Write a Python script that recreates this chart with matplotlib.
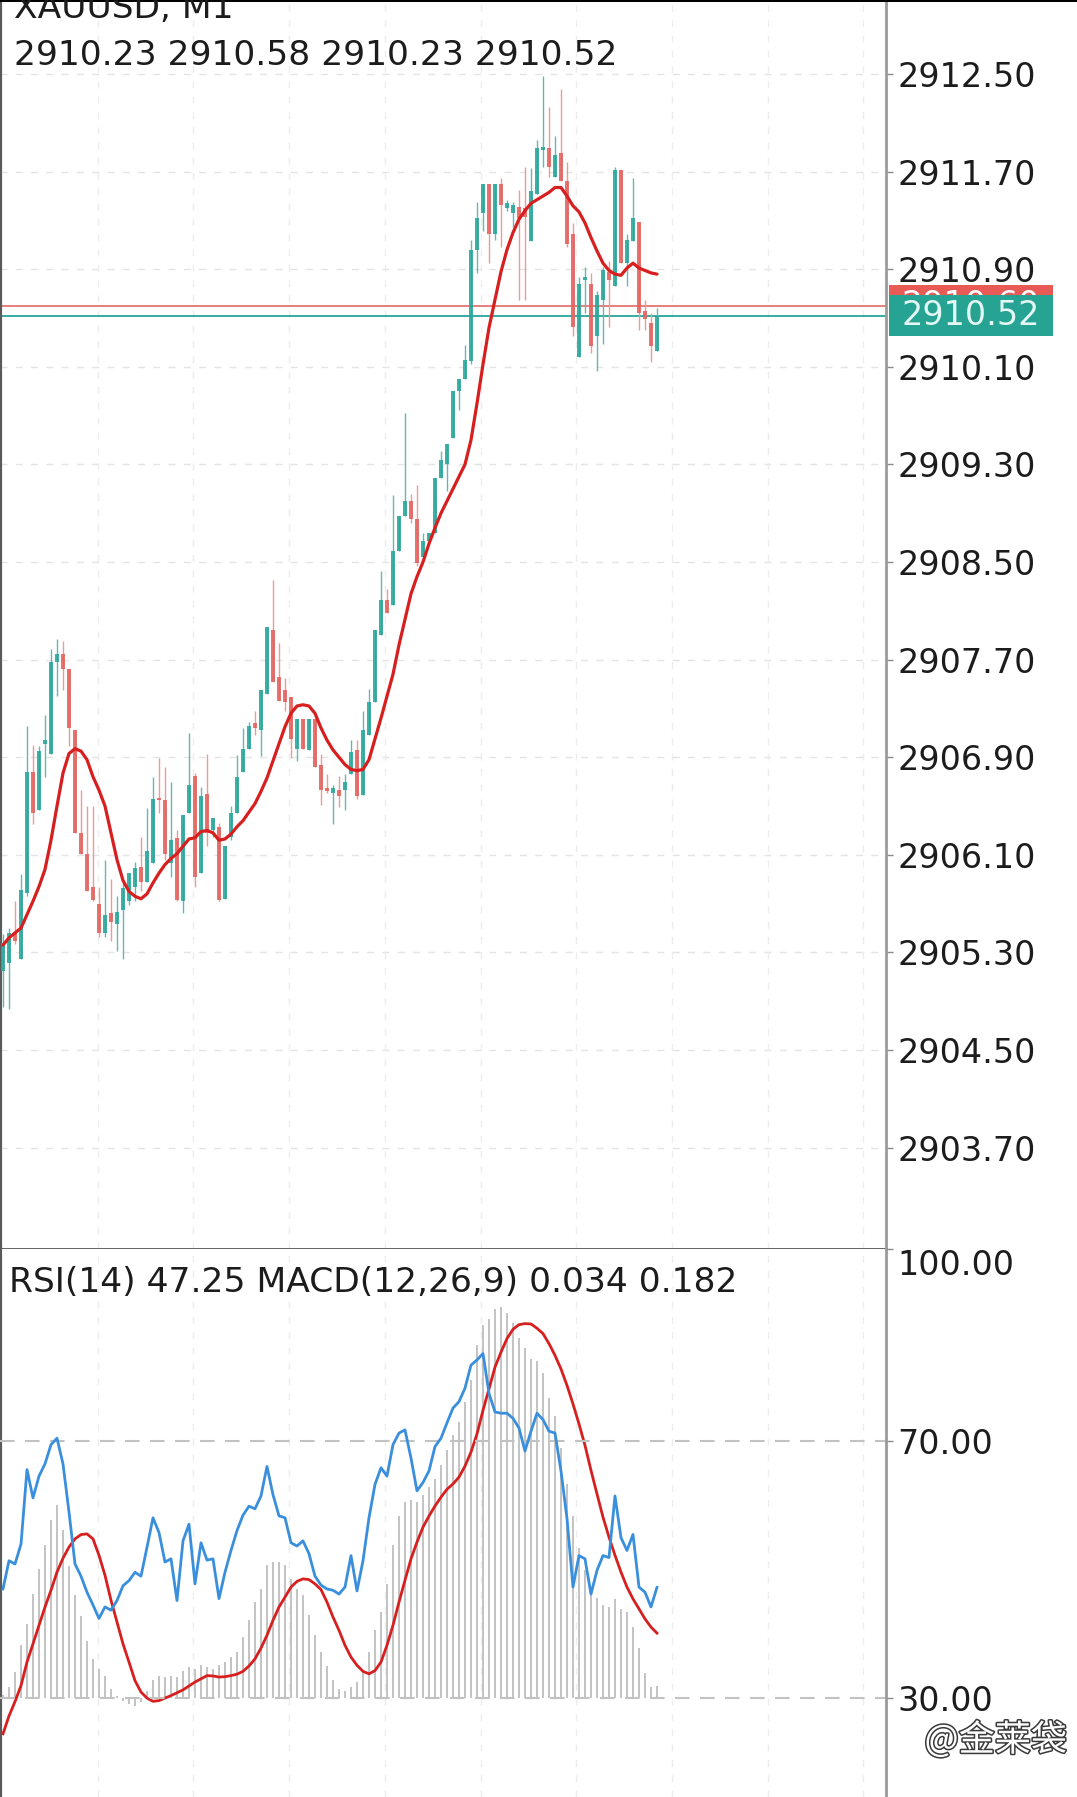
import matplotlib
matplotlib.use("Agg")
import matplotlib.pyplot as plt
import matplotlib.transforms as mtransforms
import matplotlib.patheffects as pe
from matplotlib.patches import Rectangle
import numpy as np

plt.rcParams['font.family'] = ['DejaVu Sans']

# ---------------- data ----------------
symbol_title = "XAUUSD, M1"
ohlc_header = "2910.23 2910.58 2910.23 2910.52"
indicator_header = "RSI(14) 47.25 MACD(12,26,9) 0.034 0.182"

opens = [
    2905.15, 2905.21, 2905.47, 2905.25, 2905.79, 2906.78, 2906.47, 2907.01, 2906.93, 2907.68,
    2907.75, 2907.62, 2907.12, 2906.28, 2906.11, 2905.84, 2905.70, 2905.46, 2905.62, 2905.53,
    2905.65, 2905.72, 2905.84, 2906.00, 2905.88, 2906.03, 2906.56, 2906.55, 2906.03, 2906.24,
    2905.72, 2906.44, 2906.75, 2905.95, 2906.60, 2906.30, 2906.33, 2905.74, 2906.25, 2906.44,
    2906.78, 2906.97, 2907.18, 2907.12, 2907.42, 2907.94, 2907.56, 2907.45, 2907.39, 2906.97,
    2907.21, 2906.96, 2907.21, 2906.84, 2906.65, 2906.61, 2906.63, 2906.63, 2906.76, 2906.96,
    2906.59, 2907.08, 2907.35, 2907.90, 2908.19, 2908.15, 2908.59, 2908.88, 2909.00, 2908.85,
    2908.54, 2908.67, 2908.74, 2909.19, 2909.30, 2909.52, 2909.90, 2910.00, 2910.15, 2911.06,
    2911.36, 2911.60, 2911.19, 2911.60, 2911.40, 2911.36, 2911.41, 2911.40, 2911.13, 2911.52,
    2911.88, 2911.89, 2911.66, 2911.85, 2911.62, 2911.19, 2910.18, 2910.81, 2910.78, 2910.35,
    2910.65, 2910.88, 2910.76, 2911.71, 2910.95, 2911.13, 2911.29, 2910.56, 2910.46, 2910.23,
]
highs = [
    2905.45, 2905.50, 2905.72, 2905.94, 2907.16, 2907.00, 2906.99, 2907.25, 2907.79, 2907.87,
    2907.85, 2907.62, 2907.12, 2906.63, 2906.50, 2906.50, 2905.84, 2906.06, 2905.90, 2905.76,
    2905.87, 2905.95, 2906.04, 2906.25, 2906.48, 2906.74, 2906.89, 2906.82, 2906.70, 2906.30,
    2906.43, 2907.10, 2906.77, 2906.66, 2906.93, 2906.40, 2906.36, 2906.17, 2906.50, 2906.92,
    2907.14, 2907.19, 2907.28, 2907.45, 2907.97, 2908.35, 2907.84, 2907.55, 2907.39, 2907.21,
    2907.21, 2907.21, 2907.21, 2906.93, 2906.76, 2906.67, 2906.75, 2906.76, 2907.04, 2907.04,
    2907.28, 2907.46, 2907.94, 2908.43, 2908.28, 2909.05, 2908.88, 2909.72, 2909.06, 2909.13,
    2908.74, 2908.74, 2909.19, 2909.41, 2909.47, 2909.90, 2910.00, 2910.28, 2911.14, 2911.45,
    2911.60, 2911.60, 2911.60, 2911.65, 2911.47, 2911.45, 2911.55, 2911.74, 2911.73, 2911.96,
    2912.48, 2912.23, 2911.99, 2912.38, 2911.78, 2911.28, 2910.84, 2910.92, 2910.87, 2910.72,
    2910.92, 2910.97, 2911.74, 2911.71, 2911.19, 2911.65, 2911.29, 2910.65, 2910.54, 2910.58,
]
lows = [
    2904.85, 2904.84, 2905.37, 2905.25, 2905.76, 2906.35, 2906.47, 2906.74, 2906.93, 2907.40,
    2907.45, 2906.99, 2906.28, 2906.11, 2905.80, 2905.72, 2905.43, 2905.43, 2905.39, 2905.31,
    2905.25, 2905.69, 2905.72, 2905.80, 2905.88, 2906.03, 2906.44, 2906.06, 2905.92, 2905.72,
    2905.62, 2906.44, 2905.84, 2905.95, 2906.17, 2906.25, 2905.72, 2905.74, 2906.22, 2906.44,
    2906.78, 2906.97, 2907.08, 2906.91, 2907.42, 2907.52, 2907.36, 2907.28, 2906.89, 2906.87,
    2906.97, 2906.96, 2906.82, 2906.51, 2906.61, 2906.35, 2906.49, 2906.47, 2906.76, 2906.56,
    2906.59, 2907.08, 2907.35, 2907.90, 2908.08, 2908.15, 2908.59, 2908.88, 2908.82, 2908.47,
    2908.54, 2908.67, 2908.74, 2909.19, 2909.08, 2909.52, 2909.75, 2910.00, 2910.12, 2910.87,
    2911.21, 2910.95, 2911.14, 2911.08, 2911.38, 2911.25, 2910.65, 2910.65, 2911.13, 2911.52,
    2911.74, 2911.66, 2911.66, 2911.62, 2911.08, 2910.35, 2910.18, 2910.54, 2910.21, 2910.07,
    2910.29, 2910.43, 2910.76, 2910.95, 2910.76, 2911.13, 2910.40, 2910.40, 2910.14, 2910.23,
]
closes = [
    2905.38, 2905.46, 2905.39, 2905.81, 2906.78, 2906.44, 2906.95, 2907.04, 2907.68, 2907.75,
    2907.62, 2907.14, 2906.28, 2906.11, 2905.80, 2905.73, 2905.46, 2905.61, 2905.55, 2905.63,
    2905.83, 2905.95, 2905.99, 2905.88, 2906.13, 2906.56, 2906.55, 2906.11, 2906.22, 2905.73,
    2906.43, 2906.67, 2905.92, 2906.58, 2906.28, 2906.40, 2905.73, 2906.17, 2906.44, 2906.74,
    2906.97, 2907.16, 2907.14, 2907.45, 2907.97, 2907.52, 2907.36, 2907.35, 2907.05, 2907.21,
    2906.97, 2907.21, 2906.82, 2906.63, 2906.62, 2906.65, 2906.58, 2906.70, 2906.94, 2906.58,
    2907.12, 2907.35, 2907.94, 2908.19, 2908.08, 2908.59, 2908.88, 2909.00, 2908.85, 2908.49,
    2908.67, 2908.74, 2909.19, 2909.34, 2909.47, 2909.90, 2910.00, 2910.16, 2911.06, 2911.32,
    2911.60, 2911.19, 2911.60, 2911.43, 2911.44, 2911.43, 2911.32, 2911.33, 2911.54, 2911.89,
    2911.90, 2911.74, 2911.84, 2911.62, 2911.11, 2910.43, 2910.78, 2910.84, 2910.27, 2910.69,
    2910.89, 2910.81, 2911.71, 2910.95, 2911.14, 2911.32, 2910.54, 2910.49, 2910.27, 2910.52,
]
ma_line = [
    2905.36, 2905.42, 2905.46, 2905.50, 2905.61, 2905.72, 2905.84, 2905.98, 2906.22, 2906.50,
    2906.77, 2906.93, 2906.97, 2906.95, 2906.88, 2906.74, 2906.63, 2906.50, 2906.28, 2906.06,
    2905.89, 2905.80, 2905.76, 2905.74, 2905.78, 2905.87, 2905.95, 2906.02, 2906.07, 2906.11,
    2906.17, 2906.23, 2906.24, 2906.29, 2906.30, 2906.28, 2906.22, 2906.23, 2906.27, 2906.33,
    2906.38, 2906.45, 2906.52, 2906.62, 2906.73, 2906.87, 2907.01, 2907.15, 2907.26, 2907.32,
    2907.33, 2907.32, 2907.26, 2907.14, 2907.04, 2906.96, 2906.90, 2906.84, 2906.80, 2906.79,
    2906.80, 2906.88, 2907.05, 2907.22, 2907.40, 2907.58, 2907.82, 2908.03, 2908.24, 2908.38,
    2908.50, 2908.65, 2908.78, 2908.90, 2909.00, 2909.10, 2909.20, 2909.30, 2909.50, 2909.80,
    2910.12, 2910.42, 2910.65, 2910.88, 2911.06, 2911.20, 2911.31, 2911.38, 2911.44, 2911.47,
    2911.50, 2911.53, 2911.57, 2911.57, 2911.50, 2911.42, 2911.37, 2911.28, 2911.16, 2911.05,
    2910.95, 2910.89, 2910.86, 2910.85, 2910.91, 2910.95, 2910.91, 2910.89, 2910.87, 2910.86,
]
rsi = [
    47.0, 51.4, 50.9, 54.0, 65.6, 61.2, 64.6, 66.5, 69.5, 70.5,
    66.5, 59.0, 50.9, 49.0, 46.5, 44.5, 42.4, 44.2, 43.7, 45.2,
    47.5, 48.3, 49.6, 49.0, 53.5, 58.1, 55.8, 51.2, 51.7, 45.2,
    54.5, 57.1, 47.8, 54.2, 51.5, 51.7, 45.5, 49.6, 53.0, 56.1,
    58.5, 59.9, 59.5, 61.5, 66.1, 61.7, 58.4, 58.1, 54.2, 53.7,
    54.5, 52.5, 49.0, 47.6, 47.0, 46.8, 46.2, 47.3, 52.2, 46.7,
    51.4, 58.1, 63.3, 65.9, 64.6, 69.5, 71.3, 71.8, 67.4, 62.3,
    63.6, 65.4, 69.2, 70.5, 72.9, 75.2, 76.2, 78.3, 81.9, 82.7,
    83.7, 77.5, 74.6, 74.4, 74.4, 73.6, 72.1, 68.5, 71.6, 74.4,
    73.4, 71.6, 71.3, 65.4, 58.0, 47.3, 52.2, 51.7, 46.2, 49.9,
    52.2, 51.9, 61.5, 55.0, 53.0, 55.5, 47.3, 46.5, 44.2, 47.25,
]
macd_hist = [
    0.010, 0.030, 0.073, 0.148, 0.208, 0.292, 0.362, 0.430, 0.500, 0.540,
    0.470, 0.370, 0.290, 0.230, 0.160, 0.110, 0.082, 0.063, 0.026, 0.007,
    -0.007, -0.016, -0.021, -0.011, 0.020, 0.050, 0.063, 0.059, 0.063, 0.059,
    0.075, 0.087, 0.082, 0.092, 0.087, 0.082, 0.092, 0.101, 0.115, 0.130,
    0.170, 0.220, 0.270, 0.306, 0.372, 0.381, 0.381, 0.372, 0.334, 0.306,
    0.288, 0.232, 0.176, 0.129, 0.090, 0.050, 0.025, 0.021, 0.030, 0.045,
    0.073, 0.130, 0.190, 0.240, 0.320, 0.430, 0.510, 0.550, 0.554, 0.549,
    0.570, 0.590, 0.614, 0.652, 0.694, 0.736, 0.773, 0.829, 0.890, 0.990,
    1.044, 1.063, 1.091, 1.095, 1.080, 1.050, 1.010, 0.980, 0.950, 0.945,
    0.910, 0.840, 0.790, 0.700, 0.600, 0.510, 0.420, 0.360, 0.310, 0.280,
    0.260, 0.255, 0.278, 0.250, 0.241, 0.200, 0.140, 0.070, 0.030, 0.034,
]
macd_signal = [
    -0.100, -0.050, -0.010, 0.035, 0.101, 0.152, 0.204, 0.255, 0.302, 0.353,
    0.392, 0.423, 0.446, 0.458, 0.460, 0.446, 0.400, 0.344, 0.274, 0.213,
    0.152, 0.101, 0.049, 0.017, 0.000, -0.009, -0.007, 0.000, 0.007, 0.015,
    0.023, 0.034, 0.045, 0.054, 0.063, 0.062, 0.059, 0.060, 0.063, 0.067,
    0.075, 0.090, 0.110, 0.140, 0.176, 0.218, 0.255, 0.283, 0.311, 0.327,
    0.334, 0.332, 0.320, 0.304, 0.269, 0.227, 0.190, 0.148, 0.115, 0.092,
    0.075, 0.068, 0.077, 0.101, 0.148, 0.204, 0.269, 0.330, 0.390, 0.437,
    0.479, 0.510, 0.538, 0.563, 0.585, 0.600, 0.619, 0.650, 0.689, 0.740,
    0.806, 0.866, 0.927, 0.969, 1.007, 1.033, 1.046, 1.049, 1.048, 1.036,
    1.021, 0.993, 0.960, 0.922, 0.876, 0.824, 0.768, 0.708, 0.638, 0.572,
    0.507, 0.451, 0.400, 0.353, 0.311, 0.278, 0.250, 0.222, 0.199, 0.182,
]
price_ticks = [2903.70, 2904.50, 2905.30, 2906.10, 2906.90, 2907.70,
               2908.50, 2909.30, 2910.10, 2910.90, 2911.70, 2912.50]
rsi_ticks = [30, 70, 100]
rsi_levels = [30, 70]
ask_price = 2910.60
bid_price = 2910.52
watermark = "@金莱袋"

# ---------------- figure layout ----------------
W, H = 1077, 1797
AXR = 886      # right edge of plot area (px)
SEP = 1249     # separator between panels (px)
fig = plt.figure(figsize=(W / 100, H / 100), dpi=100)
fig.patch.set_facecolor('white')

ax = fig.add_axes([0.0, 1 - SEP / H, AXR / W, SEP / H])
ax2 = fig.add_axes([0.0, 0.0, AXR / W, (H - SEP) / H])

o = np.array(opens); h = np.array(highs); l = np.array(lows); c = np.array(closes)
x = np.arange(len(c))

TEAL = '#26a69a'
RED = '#e5605c'
TXT = '#1c1c1c'
FS = 24
FS_HEAD = 24.8

xlim = (-0.5, 147.17)
grid_x = [15.8 + 15.95 * k for k in range(9)]

# ---------------- main price panel ----------------
ax.set_xlim(*xlim)
ax.set_ylim(2902.869, 2913.107)
for yt in price_ticks:
    ax.axhline(yt, color='#e4e4e4', lw=1.0, ls=(0, (5, 6)), zorder=0)
for gx in grid_x:
    ax.axvline(gx, color='#ededed', lw=1.0, ls=(0, (5, 6)), zorder=0)

up = c >= o
body_col = np.where(up, TEAL, RED)
wick_col = np.where(up, '#62b9ae', '#eb9a98')
ax.vlines(x, l, h, colors=wick_col, lw=1.0, zorder=2)
ax.bar(x, np.maximum(np.abs(c - o), 0.015), bottom=np.minimum(o, c), width=0.55,
       color=body_col, linewidth=0, alpha=0.88, zorder=3)

ax.axhline(ask_price, color='#e57373', lw=1.3, zorder=1)
ax.axhline(bid_price, color=TEAL, lw=1.3, zorder=1)
ax.plot(x, ma_line, color='#d71f1f', lw=2.3, zorder=4, solid_capstyle='round')

ax.set_xticks([])
ax.yaxis.tick_right()
ax.set_yticks(price_ticks)
ax.set_yticklabels([f"{v:.2f}" for v in price_ticks])
ax.tick_params(axis='y', which='both', length=5, width=1, color='#8a8a8a', pad=3,
               labelsize=FS, labelcolor=TXT)
ax.spines['left'].set_color('#5a5a5a'); ax.spines['left'].set_linewidth(3)
ax.spines['right'].set_color('#9a9a9a'); ax.spines['right'].set_linewidth(2)
ax.spines['top'].set_color('#111111'); ax.spines['top'].set_linewidth(2)
ax.spines['bottom'].set_color('#555555'); ax.spines['bottom'].set_linewidth(2)

# price label boxes on the right axis
trans = mtransforms.blended_transform_factory(fig.transFigure, ax.transData)
bh = 41 / 122.0
ax.add_patch(Rectangle((889 / W, ask_price - bh / 2), 164 / W, bh, transform=trans,
                       facecolor='#e85a55', edgecolor='none', clip_on=False, zorder=10))
ax.text(971 / W, ask_price, f"{ask_price:.2f}", transform=trans, ha='center', va='center',
        fontsize=FS, color='white', clip_on=False, zorder=11)
ax.add_patch(Rectangle((889 / W, bid_price - bh / 2), 164 / W, bh, transform=trans,
                       facecolor='#26a392', edgecolor='none', clip_on=False, zorder=12))
ax.text(971 / W, bid_price, f"{bid_price:.2f}", transform=trans, ha='center', va='center',
        fontsize=FS, color='#e3f7f4', clip_on=False, zorder=13)

# ---------------- lower indicator panel ----------------
ax2.set_xlim(*xlim)
ax2.set_ylim(-0.277, 1.258)   # MACD scale, zero aligned with RSI 30
for gx in grid_x:
    ax2.axvline(gx, color='#ededed', lw=1.0, ls=(0, (5, 6)), zorder=0)
ax2.bar(x, macd_hist, width=0.3, color='#c4c4c4', linewidth=0, zorder=1)
ax2.plot(x, macd_signal, color='#d71f1f', lw=2.0, zorder=3)
ax2.set_xticks([]); ax2.set_yticks([])
for s in ['top', 'bottom', 'right']:
    ax2.spines[s].set_visible(False)
ax2.spines['left'].set_color('#5a5a5a'); ax2.spines['left'].set_linewidth(3)

ax3 = ax2.twinx()
ax3.set_xlim(*xlim)
ax3.set_ylim(14.57, 100)
for lv in rsi_levels:
    ax3.axhline(lv, color='#c2c2c2', lw=1.5, ls=(0, (7, 5)), zorder=1)
ax3.plot(x, rsi, color='#3a8fdc', lw=2.0, zorder=4)
ax3.set_yticks(rsi_ticks)
ax3.set_yticklabels([f"{v:.2f}" for v in rsi_ticks])
ax3.tick_params(axis='y', length=5, width=1, color='#8a8a8a', pad=3,
                labelsize=FS, labelcolor=TXT)
for lab in ax3.get_yticklabels():
    if lab.get_text() == "100.00":
        lab.set_va('top')
for s in ['top', 'bottom', 'left']:
    ax3.spines[s].set_visible(False)
ax3.spines['right'].set_color('#9a9a9a'); ax3.spines['right'].set_linewidth(2)

# ---------------- header texts ----------------
fig.text(14 / W, 1 - 18 / H, symbol_title, fontsize=FS_HEAD, color=TXT, va='baseline', ha='left')
fig.text(14 / W, 1 - 65 / H, ohlc_header, fontsize=FS_HEAD, color=TXT, va='baseline', ha='left')
fig.text(9 / W, 1 - 1292 / H, indicator_header, fontsize=FS_HEAD, color=TXT, va='baseline', ha='left')

# watermark
fig.text(1067 / W, 1 - 1740 / H, watermark, fontsize=26, color='white', ha='right', va='center',
         family=['Noto Sans CJK SC', 'DejaVu Sans'],
         path_effects=[pe.withStroke(linewidth=2.2, foreground='#3a3a3a')])

# thin black band at the very top
fig.add_artist(Rectangle((0, 1 - 2 / H), 1, 2 / H, transform=fig.transFigure,
                         facecolor='black', edgecolor='none'))

fig.savefig("out.png", dpi=100, facecolor='white')
